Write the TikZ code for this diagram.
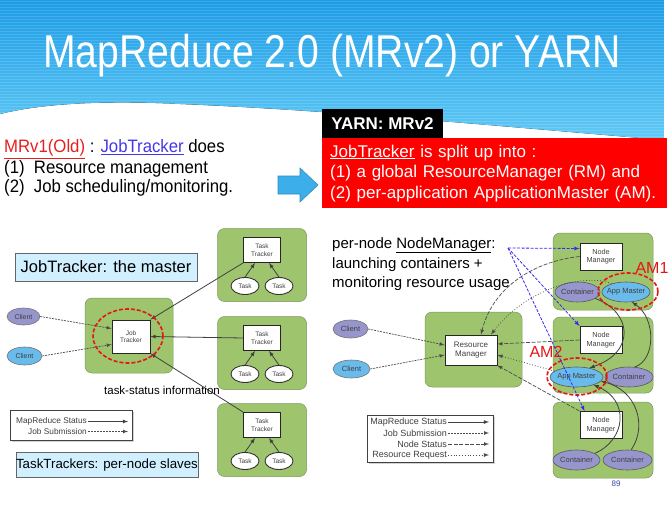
\documentclass[tikz,border=0pt]{standalone}
\usepackage{fontspec}
\setmainfont{Liberation Sans}
\newfontfamily\titlefont[FakeStretch=0.85]{Liberation Sans}
\newfontfamily\oldfont[FakeStretch=0.93]{Liberation Sans}
\usetikzlibrary{arrows}
\usetikzlibrary{shapes.geometric}
\usetikzlibrary{shadows}
\definecolor{skytop}{RGB}{28,156,230}
\definecolor{skybottom}{RGB}{98,202,246}
\definecolor{hostgreen}{RGB}{158,197,110}
\definecolor{hostedge}{RGB}{122,152,92}
\definecolor{clientpurple}{RGB}{150,150,205}
\definecolor{clientblue}{RGB}{105,187,236}
\definecolor{labelgray}{RGB}{64,64,64}
\definecolor{notefill}{RGB}{208,240,255}
\definecolor{oldred}{RGB}{232,30,30}
\definecolor{linkblue}{RGB}{70,55,230}
\definecolor{ptrblue}{RGB}{55,40,240}
\definecolor{amred}{RGB}{228,22,22}
\definecolor{splitred}{RGB}{255,0,0}
\definecolor{arrowblue}{RGB}{60,175,235}
\definecolor{pagenum}{RGB}{50,70,160}
\tikzset{%
    host/.style={draw=hostedge,fill=hostgreen,rounded corners=7pt,line width=0.5pt,inner sep=0pt},
    daemon/.style={draw=black!85,fill=white,line width=0.9pt,inner sep=0pt,align=center,text=labelgray,font=\fontsize{6.5}{7.5}\selectfont},
    proc/.style={ellipse,draw=black!65,line width=0.6pt,inner xsep=-5pt,inner ysep=0pt,text=labelgray,font=\fontsize{7.5}{8}\selectfont},
    task/.style={ellipse,draw=black!80,fill=white,line width=0.9pt,inner sep=0pt,text=labelgray,font=\fontsize{6.5}{7}\selectfont},
    client/.style={ellipse,draw=black!55,line width=0.6pt,inner sep=0pt,text=labelgray,font=\fontsize{7}{8}\selectfont},
    ring/.style={ellipse,draw=amred,dash pattern=on 4pt off 2pt,line width=1.6pt,inner sep=0pt},
    note/.style={draw=black!60,fill=notefill,line width=0.5pt,inner sep=0pt},
    legend/.style={draw=black!75,fill=white,line width=0.8pt,drop shadow={shadow xshift=2pt,shadow yshift=-2pt,opacity=0.35}},
    legtext/.style={inner sep=1pt,text=labelgray},
    bodytext/.style={inner sep=0pt,font=\oldfont\fontsize{18}{20}\selectfont},
    status/.style={-latex,line width=0.8pt,draw=black!75},
    submit/.style={-latex,dash pattern=on 2pt off 1pt,line width=0.7pt,draw=black!70},
    nodestat/.style={-latex,dash pattern=on 4pt off 1.5pt,line width=0.7pt,draw=black!70},
    request/.style={-latex,dotted,line width=0.8pt,draw=black!70},
    pointer/.style={-latex,draw=ptrblue,dash pattern=on 3pt off 1.5pt,line width=0.8pt},
}
\begin{document}
\begin{tikzpicture}[x=1pt,y=-1pt]
    \useasboundingbox (0,0) rectangle (672,524);

    %background
    \begin{scope}
        \clip (0,0) -- (664,0) -- (664,140) .. controls (520,128) and (330,110) .. (180,104) .. controls (100,100) and (40,104) .. (0,114) -- cycle;
        \fill[top color=skytop,bottom color=skybottom] (0,0) rectangle (664,140);
        \foreach \y in {1,4,...,140} \draw[white,opacity=0.14,line width=0.8pt] (0,\y) -- (664,\y);
    \end{scope}

    %title
    \node[anchor=base,text=white,inner sep=0pt,font=\titlefont\fontsize{46}{50}\selectfont] (title) at (332,68) {MapReduce 2.0 (MRv2) or YARN};

    %mrv1
    \node[bodytext,anchor=base west] (old1) at (4,153) {\textcolor{oldred}{\underline{MRv1(Old)}} : \textcolor{linkblue}{\underline{JobTracker}} does};
    \node[bodytext,anchor=base west] (old2) at (4,173) {(1)\ \ Resource management};
    \node[bodytext,anchor=base west] (old3) at (4,193) {(2)\ \ Job scheduling/monitoring.};
    \path[fill=arrowblue,draw=arrowblue!80!black,line width=0.6pt] (278,176) -- (300,176) -- (300,168) -- (318,185) -- (300,202) -- (300,194) -- (278,194) -- cycle;

    %yarn
    \node[fill=black,text=white,inner sep=0pt,minimum width=121,minimum height=29,font=\bfseries\fontsize{17}{20}\selectfont] (yarn) at (382.5,123.5) {YARN: MRv2};
    \node[fill=splitred,text=white,anchor=north west,inner xsep=8pt,inner ysep=3pt,text width=329,minimum height=70,align=left,font=\fontsize{17}{20.5}\selectfont] (split) at (322,138) {\underline{JobTracker} is split up into :\\(1) a global ResourceManager (RM) and\\(2) per-application ApplicationMaster (AM).};

    %jobtracker
    \node[note,minimum width=182,minimum height=28,font=\fontsize{16.5}{18}\selectfont] (master) at (106,267) {JobTracker: the master};
    \node[host,minimum width=89,minimum height=73] (tt1) at (262,265) {};
    \node[daemon,minimum width=37,minimum height=25] (ttb1) at (262,250) {Task\\Tracker};
    \node[task,minimum width=28,minimum height=17] (t11) at (245,286) {Task};
    \node[task,minimum width=28,minimum height=17] (t12) at (279,286) {Task};
    \node[host,minimum width=89,minimum height=73] (tt2) at (262,353) {};
    \node[daemon,minimum width=37,minimum height=25] (ttb2) at (262,338) {Task\\Tracker};
    \node[task,minimum width=28,minimum height=17] (t21) at (245,374) {Task};
    \node[task,minimum width=28,minimum height=17] (t22) at (279,374) {Task};
    \node[host,minimum width=89,minimum height=73] (tt3) at (262,440) {};
    \node[daemon,minimum width=37,minimum height=25] (ttb3) at (262,425) {Task\\Tracker};
    \node[task,minimum width=28,minimum height=17] (t31) at (245,461) {Task};
    \node[task,minimum width=28,minimum height=17] (t32) at (279,461) {Task};
    \node[host,minimum width=88,minimum height=75] (jthost) at (129,335.5) {};
    \node[daemon,minimum width=38,minimum height=33] (jt) at (131,336.5) {Job\\Tracker};
    \node[client,fill=clientpurple,minimum width=33,minimum height=17] (cl1) at (23.5,316.5) {Client};
    \node[client,fill=clientblue,minimum width=35,minimum height=18] (cl2) at (24.5,356) {Client};
    \draw[submit] (cl1.east) -- ([yshift=8pt]jt.west);
    \draw[submit] (cl2.east) -- ([yshift=-8pt]jt.west);
    \draw[status] (ttb1.south west) -- (jt.north east);
    \draw[status] (ttb2.west) -- (jt.east);
    \draw[status] (ttb3.north west) -- (jt.south east);
    \draw[status] (t11.north) -- ([xshift=-7pt]ttb1.south);
    \draw[status] (t12.north) -- ([xshift=7pt]ttb1.south);
    \draw[status] (t21.north) -- ([xshift=-7pt]ttb2.south);
    \draw[status] (t22.north) -- ([xshift=7pt]ttb2.south);
    \draw[status] (t31.north) -- ([xshift=-7pt]ttb3.south);
    \draw[status] (t32.north) -- ([xshift=7pt]ttb3.south);
    \node[ring,minimum width=70,minimum height=54] (jtring) at (128,336) {};
    \node[inner sep=0pt,font=\fontsize{11.5}{13}\selectfont] (tsi) at (162,390) {task-status information};

    %legenda
    \node[legend,minimum width=122,minimum height=30] (legL) at (71,425) {};
    \node[legtext,anchor=east,font=\fontsize{8.3}{9}\selectfont] (lgL1) at (88,421.5) {MapReduce Status};
    \node[legtext,anchor=east,font=\fontsize{8.3}{9}\selectfont] (lgL2) at (88,431.5) {Job Submission};
    \coordinate (lgL1e) at (128,421.5);
    \coordinate (lgL2e) at (128,431.5);
    \draw[status] (lgL1.east) -- (lgL1e);
    \draw[submit] (lgL2.east) -- (lgL2e);
    \node[note,minimum width=182,minimum height=25,font=\fontsize{13.3}{15}\selectfont] (slaves) at (107,465) {TaskTrackers: per-node slaves};

    %resourcemanager
    \node[inner sep=0pt,anchor=base west,font=\fontsize{15}{17}\selectfont] (nmt1) at (332,248) {per-node \underline{NodeManager}:};
    \node[inner sep=0pt,anchor=base west,font=\fontsize{15}{17}\selectfont] (nmt2) at (332,268) {launching\ containers +};
    \node[inner sep=0pt,anchor=base west,font=\fontsize{15}{17}\selectfont] (nmt3) at (332,287) {monitoring\ resource usage};
    \coordinate (nmtip) at (508,248);
    \node[host,minimum width=97,minimum height=75] (rmhost) at (473.5,349.5) {};
    \node[daemon,minimum width=52,minimum height=30,font=\fontsize{8}{9}\selectfont] (rm) at (471,350) {Resource\\Manager};
    \node[client,fill=clientpurple,minimum width=35,minimum height=18,font=\fontsize{7.5}{8}\selectfont] (cl3) at (350.5,329) {Client};
    \node[client,fill=clientblue,minimum width=37,minimum height=18,font=\fontsize{7.5}{8}\selectfont] (cl4) at (351.5,369) {Client};
    \node[host,minimum width=100,minimum height=77] (nm1) at (603,271.5) {};
    \node[host,minimum width=100,minimum height=76] (nm2) at (603,355) {};
    \node[host,minimum width=100,minimum height=76] (nm3) at (603,440) {};
    \node[daemon,minimum width=42,minimum height=27,font=\fontsize{7.3}{8.3}\selectfont] (nmb1) at (601,256.5) {Node\\Manager};
    \node[daemon,minimum width=42,minimum height=27,font=\fontsize{7.3}{8.3}\selectfont] (nmb2) at (601,340) {Node\\Manager};
    \node[daemon,minimum width=42,minimum height=27,font=\fontsize{7.3}{8.3}\selectfont] (nmb3) at (601,425) {Node\\Manager};
    \node[proc,fill=clientpurple,minimum width=45,minimum height=20] (c11) at (577.5,292) {Container};
    \node[proc,fill=clientblue,minimum width=48,minimum height=20] (am1) at (626,292) {App Master};
    \node[proc,fill=clientblue,minimum width=53,minimum height=20] (am2) at (576.5,377) {App Master};
    \node[proc,fill=clientpurple,minimum width=48,minimum height=20] (c22) at (629,377) {Container};
    \node[proc,fill=clientpurple,minimum width=47,minimum height=20] (c31) at (576.5,460) {Container};
    \node[proc,fill=clientpurple,minimum width=49,minimum height=20] (c32) at (627.5,460) {Container};
    \draw[submit] (cl3.east) -- ([yshift=5pt]rm.west);
    \draw[submit] (cl4.east) -- ([yshift=-5pt]rm.west);
    \draw[nodestat] (nmb1.west) .. controls (530,262) and (492,290) .. ([xshift=10pt]rm.north);
    \draw[request] (am1.150) .. controls (590,274) and (530,284) .. ([xshift=20pt]rm.north);
    \draw[nodestat] (nmb2.west) -- ([yshift=6pt]rm.east);
    \draw[request] (am2.165) -- ([yshift=-5pt]rm.east);
    \draw[nodestat] (nmb3.north west) -- (rm.south east);
    \draw[status] (c11.-20) .. controls (632,312) and (636,352) .. (am2.35);
    \draw[status] (c22.60) .. controls (656,360) and (656,318) .. (am1.-60);
    \draw[status] (c31.20) .. controls (626,440) and (630,400) .. (am2.-25);
    \draw[status] (c32.70) .. controls (648,425) and (636,390) .. (am2.-10);
    \node[ring,minimum width=60,minimum height=37] (ring1) at (628,291.5) {};
    \node[ring,minimum width=60,minimum height=37] (ring2) at (577,376.5) {};
    \node[text=amred,inner sep=0pt,font=\fontsize{16}{18}\selectfont] (am1lbl) at (652,268) {AM1};
    \node[text=amred,inner sep=0pt,font=\fontsize{16}{18}\selectfont] (am2lbl) at (546,352) {AM2};
    \draw[pointer] (nmtip) -- ([yshift=8pt]nmb1.west);
    \draw[pointer] (nmtip) -- (nmb2.north west);
    \draw[pointer] (nmtip) -- ([xshift=5pt]nmb3.north west);

    %legenda
    \node[legend,minimum width=126,minimum height=47] (legR) at (430,438.5) {};
    \node[legtext,anchor=east,font=\fontsize{9}{10}\selectfont] (lgR1) at (448,422) {MapReduce Status};
    \node[legtext,anchor=east,font=\fontsize{9}{10}\selectfont] (lgR2) at (448,433) {Job Submission};
    \node[legtext,anchor=east,font=\fontsize{9}{10}\selectfont] (lgR3) at (448,444) {Node Status};
    \node[legtext,anchor=east,font=\fontsize{9}{10}\selectfont] (lgR4) at (448,455) {Resource Request};
    \coordinate (lgR1e) at (489,422);
    \coordinate (lgR2e) at (489,433);
    \coordinate (lgR3e) at (489,444);
    \coordinate (lgR4e) at (489,455);
    \draw[status] (lgR1.east) -- (lgR1e);
    \draw[submit] (lgR2.east) -- (lgR2e);
    \draw[nodestat] (lgR3.east) -- (lgR3e);
    \draw[request] (lgR4.east) -- (lgR4e);
    \node[text=pagenum,inner sep=0pt,font=\fontsize{8}{9}\selectfont] (page) at (616,484) {89};
\end{tikzpicture}
\end{document}
